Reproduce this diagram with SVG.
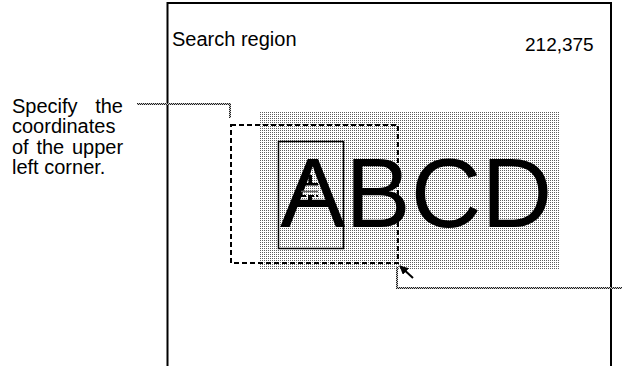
<svg xmlns="http://www.w3.org/2000/svg" width="622" height="366" viewBox="0 0 622 366">
  <style>
    .t { font-family: "Liberation Sans", Arial, sans-serif; fill: #000; }
    .lbl { font-size: 20px; }
    .frame { fill: none; stroke: #000; stroke-width: 2; }
    .lead { fill: none; stroke: url(#chk); stroke-width: 2; }
    .dash { fill: none; stroke: #000; stroke-width: 2; stroke-dasharray: 5 3; }
  </style>
  <defs>
    <pattern id="dots" x="0" y="0" width="2" height="2" patternUnits="userSpaceOnUse">
      <rect width="2" height="2" fill="#ffffff"/>
      <rect x="0" y="0" width="1" height="1" fill="#5e5e5e"/>
    </pattern>
    <pattern id="chk" x="0" y="0" width="2" height="2" patternUnits="userSpaceOnUse">
      <rect width="2" height="2" fill="#c8c8c8"/>
      <rect x="0" y="0" width="1" height="1" fill="#1e1e1e"/>
      <rect x="1" y="1" width="1" height="1" fill="#1e1e1e"/>
    </pattern>
    <marker id="ah" viewBox="0 0 10 10" refX="9" refY="5" markerWidth="4.5" markerHeight="4.5" orient="auto-start-reverse" markerUnits="strokeWidth">
      <path d="M0,0 L10,5 L0,10 z" fill="#000"/>
    </marker>
  </defs>

  <g id="screen-frame">
    <path class="frame" d="M167.5,366 V3 H611 V366"/>
  </g>

  <g id="title">
    <text class="t lbl" x="172" y="46">Search region</text>
  </g>
  <g id="coords">
    <text class="t" x="525" y="51" font-size="19">212,375</text>
  </g>

  <g id="note">
    <text class="t lbl"><tspan x="12" y="113">Specify</tspan><tspan x="95.2" y="113">the</tspan></text>
    <text class="t lbl" x="12" y="133">coordinates</text>
    <text class="t lbl"><tspan x="12" y="153.5">of</tspan><tspan x="36.4" y="153.5">the</tspan><tspan x="71.9" y="153.5">upper</tspan></text>
    <text class="t lbl" x="12" y="173.5">left corner.</text>
  </g>

  <g id="image-area">
    <rect x="260" y="111" width="300" height="159" fill="url(#dots)"/>
    <text class="t" x="280" y="227" font-size="98">ABCD</text>
  </g>

  <g id="model-box">
    <rect x="278.5" y="141.5" width="65" height="107" fill="none" stroke="#000" stroke-width="1.5"/>
    <rect x="308.5" y="175" width="3.5" height="10" fill="#000"/>
    <rect x="301" y="183" width="17" height="2.5" fill="#000"/>
    <line x1="301" y1="191.5" x2="318" y2="191.5" stroke="#666" stroke-width="1.5"/>
    <line x1="300" y1="196" x2="318" y2="196" stroke="#000" stroke-width="2" stroke-dasharray="6 2"/>
    <rect x="308" y="197" width="4" height="4" fill="#000"/>
  </g>

  <g id="search-box">
    <rect class="dash" x="231" y="125" width="167" height="138"/>
  </g>

  <g id="connectors">
    <path class="lead" d="M137,104 H230 V118"/>
    <path class="lead" d="M397,267 V288 H622"/>
    <line x1="413" y1="278" x2="400" y2="266" stroke="#000" stroke-width="2" marker-end="url(#ah)"/>
  </g>
</svg>
